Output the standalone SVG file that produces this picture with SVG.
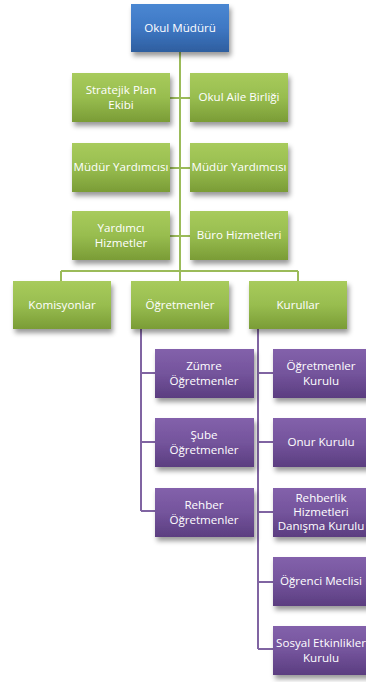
<svg xmlns="http://www.w3.org/2000/svg" width="366" height="682" viewBox="0 0 366 682">
<defs>
<linearGradient id="gGreen" x1="0" y1="0" x2="0" y2="1"><stop offset="0" stop-color="#a8cb5c"/><stop offset="0.5" stop-color="#98bd4f"/><stop offset="1" stop-color="#7a9c36"/></linearGradient>
<linearGradient id="gBlue" x1="0" y1="0" x2="0" y2="1"><stop offset="0" stop-color="#4a87d2"/><stop offset="0.5" stop-color="#3f78c4"/><stop offset="1" stop-color="#2e5e9f"/></linearGradient>
<linearGradient id="gPurple" x1="0" y1="0" x2="0" y2="1"><stop offset="0" stop-color="#8361ab"/><stop offset="0.5" stop-color="#74549c"/><stop offset="1" stop-color="#5b3d80"/></linearGradient>
<filter id="sh" x="-20%" y="-20%" width="150%" height="160%"><feDropShadow dx="2" dy="4" stdDeviation="2.5" flood-color="#000" flood-opacity="0.4"/></filter>
</defs>
<style>
.g{fill:url(#gGreen);filter:url(#sh)}
.b{fill:url(#gBlue);filter:url(#sh)}
.p{fill:url(#gPurple);filter:url(#sh)}
text{font-family:"Open Sans","Liberation Sans",sans-serif;font-size:11.6px;fill:#ffffff;text-anchor:middle}
.lg{stroke:#9bbb59;stroke-width:2;fill:none}
.lp{stroke:#8064a2;stroke-width:2;fill:none}
</style>
<g id="connectors">
<path class="lg" d="M180 52V271M170 98H190M170 168H190M170 236H190M61 271H298M61 271V281M180 271V281M298 271V281"/>
<path class="lp" d="M141 329V511M141 373H155M141 442H155M141 511H155M258 329V649M258 373H273M258 442H273M258 512H273M258 582H273M258 649H273"/>
</g>
<g id="okul-muduru"><rect class="b" x="131" y="4" width="98" height="48"/><text x="180" y="32">Okul Müdürü</text></g>
<g id="stratejik"><rect class="g" x="72" y="73" width="98" height="49"/><text x="121" y="94">Stratejik Plan</text><text x="121" y="109">Ekibi</text></g>
<g id="okul-aile"><rect class="g" x="190" y="73" width="98" height="49"/><text x="239" y="101">Okul Aile Birliği</text></g>
<g id="mudur-yard-1"><rect class="g" x="72" y="143" width="98" height="49"/><text x="121" y="171">Müdür Yardımcısı</text></g>
<g id="mudur-yard-2"><rect class="g" x="190" y="143" width="98" height="49"/><text x="239" y="171">Müdür Yardımcısı</text></g>
<g id="yardimci"><rect class="g" x="72" y="211" width="98" height="49"/><text x="121" y="232">Yardımcı</text><text x="121" y="247">Hizmetler</text></g>
<g id="buro"><rect class="g" x="190" y="211" width="98" height="49"/><text x="239" y="239">Büro Hizmetleri</text></g>
<g id="komisyonlar"><rect class="g" x="13" y="281" width="98" height="48"/><text x="62" y="309">Komisyonlar</text></g>
<g id="ogretmenler"><rect class="g" x="131" y="281" width="98" height="48"/><text x="180" y="309">Öğretmenler</text></g>
<g id="kurullar"><rect class="g" x="249" y="281" width="98" height="48"/><text x="298" y="309">Kurullar</text></g>
<g id="zumre"><rect class="p" x="155" y="349" width="99" height="49"/><text x="204" y="370">Zümre</text><text x="204" y="385">Öğretmenler</text></g>
<g id="sube"><rect class="p" x="155" y="418" width="99" height="49"/><text x="204" y="439">Şube</text><text x="204" y="454">Öğretmenler</text></g>
<g id="rehber"><rect class="p" x="155" y="488" width="99" height="49"/><text x="204" y="509">Rehber</text><text x="204" y="524">Öğretmenler</text></g>
<g id="ogretmenler-kurulu"><rect class="p" x="273" y="349" width="99" height="49"/><text x="321" y="370">Öğretmenler</text><text x="321" y="385">Kurulu</text></g>
<g id="onur"><rect class="p" x="273" y="418" width="99" height="49"/><text x="321" y="446">Onur Kurulu</text></g>
<g id="rehberlik"><rect class="p" x="273" y="488" width="99" height="49"/><text x="321" y="502">Rehberlik</text><text x="321" y="516">Hizmetleri</text><text x="321" y="530">Danışma Kurulu</text></g>
<g id="ogrenci-meclisi"><rect class="p" x="273" y="557" width="99" height="49"/><text x="321" y="585">Öğrenci Meclisi</text></g>
<g id="sosyal"><rect class="p" x="273" y="626" width="99" height="49"/><text x="321" y="647">Sosyal Etkinlikler</text><text x="321" y="662">Kurulu</text></g>
</svg>
